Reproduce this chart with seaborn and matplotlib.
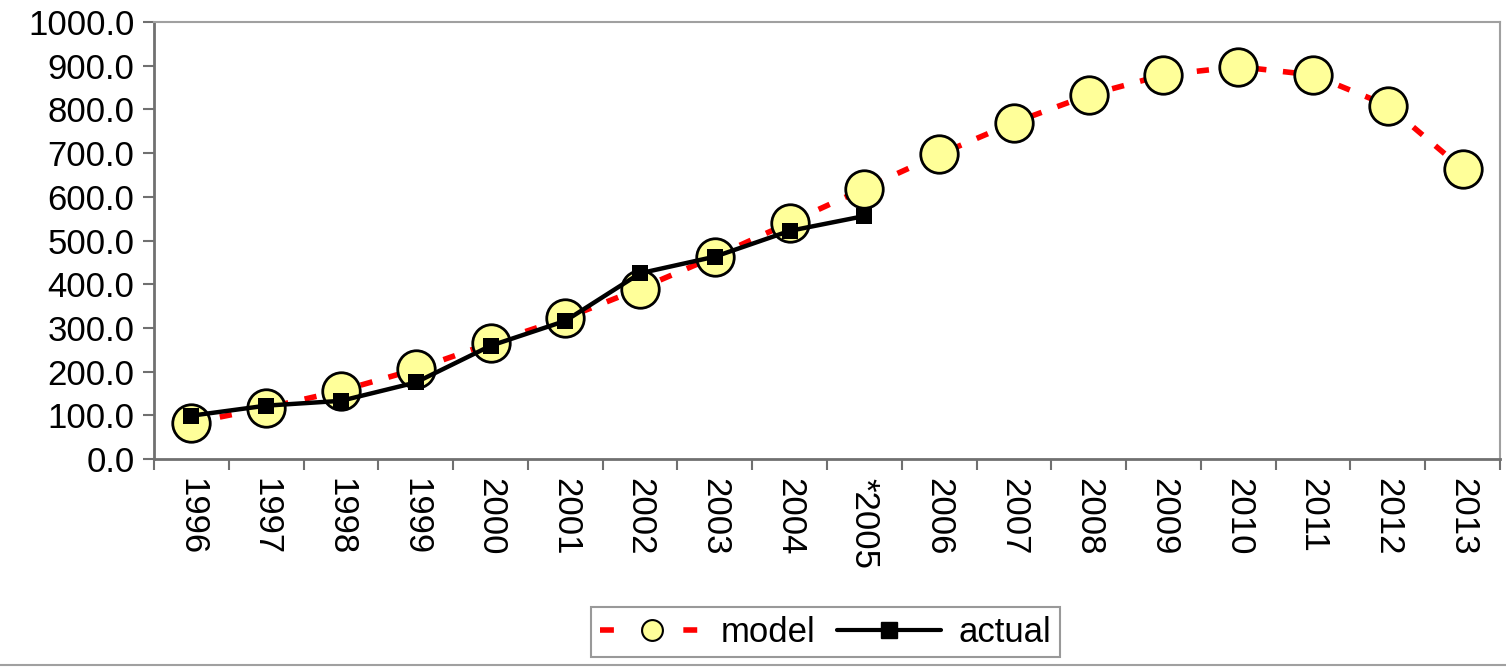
import matplotlib
matplotlib.use("Agg")
import matplotlib.pyplot as plt
from matplotlib.lines import Line2D
from matplotlib.ticker import FixedLocator, FormatStrFormatter
import numpy as np
import pandas as pd
import seaborn as sns

years = ["1996", "1997", "1998", "1999", "2000", "2001", "2002", "2003", "2004",
         "*2005", "2006", "2007", "2008", "2009", "2010", "2011", "2012", "2013"]
model = [83, 117, 156, 205, 265, 322, 390, 463, 541, 619,
         697, 770, 833, 879, 898, 879, 809, 664]
actual_years = ["1996", "1997", "1998", "1999", "2000", "2001", "2002", "2003", "2004", "*2005"]
actual = [99, 122, 133, 175, 259, 316, 425, 463, 522, 556]

sns.set_style("white")
plt.rcParams["font.family"] = ["Liberation Sans", "DejaVu Sans"]
plt.rcParams["text.color"] = "black"
plt.rcParams["xtick.color"] = "black"
plt.rcParams["ytick.color"] = "black"

pos = {y: i for i, y in enumerate(years)}
df_model = pd.DataFrame({"x": [pos[y] for y in years], "value": model})
df_actual = pd.DataFrame({"x": [pos[y] for y in actual_years], "value": actual})

fig = plt.figure(figsize=(15.06, 6.69), dpi=100)
ax = fig.add_axes([0.1023, 0.314, 0.8937, 0.653])

sns.lineplot(data=df_model, x="x", y="value", ax=ax, color="#FF0000",
             linewidth=4, dashes=False, zorder=2)
ax.lines[-1].set_dashes([2.2, 3])
sns.scatterplot(data=df_model, x="x", y="value", ax=ax, marker="o", s=27 ** 2,
                color="#FFFF99", edgecolor="black", linewidth=2, zorder=3)
sns.lineplot(data=df_actual, x="x", y="value", ax=ax, color="black",
             linewidth=3.2, zorder=4)
sns.scatterplot(data=df_actual, x="x", y="value", ax=ax, marker="s", s=12 ** 2,
                color="black", edgecolor="black", linewidth=0, zorder=5)

ax.set_xlim(-0.5, len(years) - 0.5)
ax.set_ylim(0, 1000)
ax.set_xlabel("")
ax.set_ylabel("")

ax.yaxis.set_major_locator(FixedLocator(np.arange(0, 1001, 100)))
ax.yaxis.set_major_formatter(FormatStrFormatter("%.1f"))
ax.set_xticks(range(len(years)))
ax.set_xticklabels(years, rotation=270, fontsize=25)
ax.xaxis.set_minor_locator(FixedLocator(np.arange(-0.5, len(years), 1.0)))
ax.tick_params(axis="x", which="major", length=0, pad=14, labelcolor="black")
ax.tick_params(axis="x", which="minor", length=8, width=1.5, color="#707070", direction="out")
ax.tick_params(axis="y", which="major", length=8, width=1.5, color="#707070",
               direction="out", labelsize=25, pad=6, labelcolor="black")
ax.tick_params(left=True, bottom=True, which="both")

for side in ("left", "bottom"):
    ax.spines[side].set_color("#707070")
    ax.spines[side].set_linewidth(2)
for side in ("top", "right"):
    ax.spines[side].set_color("#A0A0A0")
    ax.spines[side].set_linewidth(1.5)

handles = [
    Line2D([], [], color="#FF0000", linewidth=4, dashes=[2.5, 5], marker="o",
           markersize=15, markerfacecolor="#FFFF99", markeredgecolor="black",
           markeredgewidth=1.5),
    Line2D([], [], color="black", linewidth=3, marker="s", markersize=11,
           markerfacecolor="black", markeredgecolor="black"),
]
leg = fig.legend(handles, ["model", "actual"], loc="center", bbox_to_anchor=(0.548, 0.055),
                 ncol=2, fontsize=25, frameon=True, fancybox=False, handlelength=3.0,
                 columnspacing=0.6, handletextpad=0.5, borderpad=0.25)
leg.get_frame().set_edgecolor("#808080")
leg.get_frame().set_linewidth(1.5)
for t in leg.get_texts():
    t.set_color("black")

fig.add_artist(Line2D([0, 1], [0.006, 0.006], transform=fig.transFigure,
                      color="#A0A0A0", linewidth=1.5))

fig.savefig("out.png", dpi=100)
